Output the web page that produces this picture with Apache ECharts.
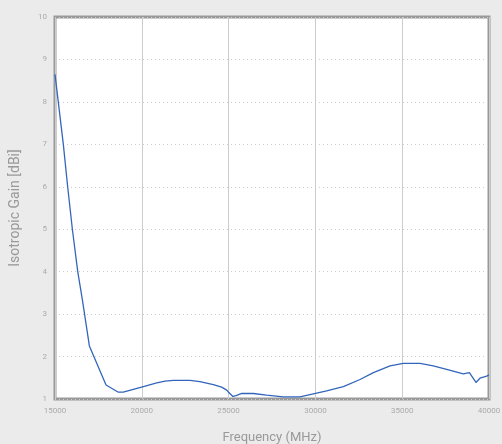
<!DOCTYPE html>
<html><head><meta charset="utf-8">
<script src="https://cdn.jsdelivr.net/npm/echarts@6/dist/echarts.min.js"></script>
<style>html,body{margin:0;padding:0;background:#ebebeb;}#c{width:502px;height:444px;}</style>
</head><body><div id="c"></div>
<script>
const freqs = [15000,15480,15730,16000,16310,16580,16980,17940,18650,18930,19990,20860,21340,21820,22780,23350,24120,24600,24890,25000,25250,25430,25760,26420,27190,28150,29110,29880,30650,31610,32570,33340,34300,35060,36030,36790,37560,38520,38870,39250,39480,39870,40000];
const gain  = [8.65,7.0,6.0,5.0,4.0,3.33,2.25,1.33,1.16,1.16,1.28,1.38,1.42,1.44,1.44,1.41,1.34,1.28,1.21,1.16,1.06,1.08,1.13,1.13,1.09,1.05,1.05,1.12,1.19,1.29,1.46,1.62,1.78,1.84,1.84,1.78,1.70,1.59,1.62,1.39,1.49,1.54,1.57];
const xName = 'Frequency (MHz)';
const yName = 'Isotropic Gain [dBi]';
const font = 'Roboto';
const chart = echarts.init(document.getElementById('c'));
chart.setOption({
  backgroundColor: '#ebebeb',
  animation: false,
  grid: {left:55, top:17, right:13, bottom:45, outerBoundsMode:'none', containLabel:false,
    show:true, backgroundColor:'#fff', borderColor:'#999', borderWidth:3},
  xAxis: {type:'value', min:15000, max:40000, interval:5000,
    name:xName, nameLocation:'middle', nameGap:32,
    nameTextStyle:{color:'#999', fontSize:13, fontFamily:font},
    axisLine:{show:false}, axisTick:{show:false},
    axisLabel:{color:'#aaa', fontSize:8, fontFamily:font, margin:8, formatter: v => String(v)},
    splitLine:{show:true, lineStyle:{color:'#ccc', width:1, type:'solid'}}},
  yAxis: {type:'value', min:1, max:10, interval:1,
    name:yName, nameLocation:'middle', nameGap:33,
    nameTextStyle:{color:'#999', fontSize:14, fontFamily:font},
    axisLine:{show:false}, axisTick:{show:false},
    axisLabel:{color:'#aaa', fontSize:8, fontFamily:font, margin:8},
    splitLine:{show:true, lineStyle:{color:'#ccc', width:1, type:[1,3]}}},
  series: [{type:'line', data: freqs.map((f,i)=>[f,gain[i]]), showSymbol:false,
    lineStyle:{color:'#3366bb', width:1.3}}]
});
</script></body></html>
